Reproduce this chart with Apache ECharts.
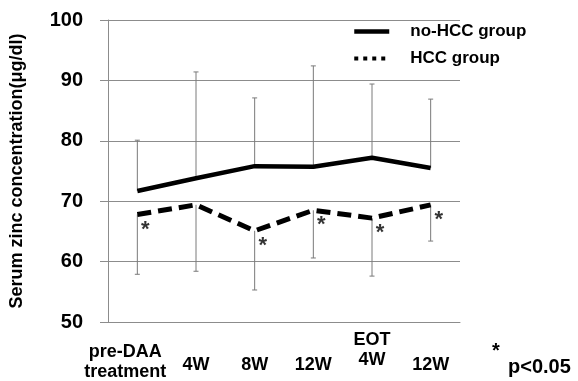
<!DOCTYPE html>
<html>
<head>
<meta charset="utf-8">
<script src="https://cdn.jsdelivr.net/npm/echarts@6/dist/echarts.min.js"></script>
<style>
  html, body { margin: 0; padding: 0; background: #fff; }
  #chart { width: 578px; height: 381px; }
</style>
</head>
<body>
<div id="chart"></div>
<script>
const categories = ['pre-DAA\ntreatment', '4W', '8W', '12W', 'EOT\n4W', '12W'];
const yTicks = [50, 60, 70, 80, 90, 100];

// no-HCC group: mean and upper SD bound
const noHccMean = [71.7, 73.8, 75.8, 75.7, 77.2, 75.5];
const noHccUpper = [80.1, 91.4, 87.1, 92.4, 89.4, 86.9];

// HCC group: mean and lower SD bound
const hccMean = [67.8, 69.4, 65.1, 68.5, 67.2, 69.4];
const hccLower = [57.9, 58.4, 55.3, 60.6, 57.6, 63.4];

// p<0.05 markers
const significant = [true, false, true, true, true, true];

const FONT = "'Liberation Sans', Arial, sans-serif";
const chart = echarts.init(document.getElementById('chart'));

function errorBar(params, api) {
  const p0 = api.coord([api.value(0), api.value(1)]);
  const p1 = api.coord([api.value(0), api.value(2)]);
  const style = { stroke: '#7a7a7a', lineWidth: 1 };
  return {
    type: 'group',
    children: [
      { type: 'line', shape: { x1: p0[0], y1: p0[1], x2: p1[0], y2: p1[1] }, style },
      { type: 'line', shape: { x1: p1[0] - 2.5, y1: p1[1], x2: p1[0] + 2.5, y2: p1[1] }, style }
    ]
  };
}

// two-line labels sit higher; single-line labels line up with the bottom row
const axisData = categories.map((c, i) => {
  let padding = [27, 0, 0, 0];
  if (i === 0) padding = [14, 24, 0, 0];
  else if (c.indexOf('EOT') === 0) padding = [2, 0, 0, 0];
  return { value: c, textStyle: { verticalAlign: 'top', lineHeight: 20, padding } };
});

chart.setOption({
  animation: false,
  backgroundColor: '#fff',
  grid: { left: 108, right: 118, top: 20, bottom: 59, outerBoundsMode: 'none', containLabel: false },
  legend: {
    orient: 'vertical',
    left: 347,
    top: 18,
    itemWidth: 35,
    itemHeight: 14,
    itemGap: 10,
    itemStyle: { color: 'transparent', borderColor: 'transparent', borderWidth: 0 },
    textStyle: { fontFamily: FONT, fontWeight: 'bold', fontSize: 17, color: '#000', padding: [0, 0, 0, 16] },
    data: [
      { name: 'no-HCC group', lineStyle: { width: 4.5 } },
      { name: 'HCC group', lineStyle: { type: [4, 5], width: 4 } }
    ]
  },
  xAxis: {
    type: 'category',
    data: axisData,
    boundaryGap: true,
    axisLine: { lineStyle: { color: '#8c8c8c', width: 1 } },
    axisTick: { show: false },
    axisLabel: {
      interval: 0,
      margin: 6,
      verticalAlign: 'top',
      lineHeight: 20,
      fontFamily: FONT,
      fontWeight: 'bold',
      fontSize: 18,
      color: '#000'
    }
  },
  yAxis: {
    type: 'value',
    min: yTicks[0],
    max: yTicks[yTicks.length - 1],
    interval: 10,
    name: 'Serum zinc concentration(μg/dl)',
    nameLocation: 'middle',
    nameGap: 82,
    nameTextStyle: { fontFamily: FONT, fontWeight: 'bold', fontSize: 18, color: '#000' },
    axisLine: { show: true, lineStyle: { color: '#8c8c8c', width: 1 } },
    axisTick: { show: true, length: 8, lineStyle: { color: '#8c8c8c' } },
    splitLine: { lineStyle: { color: '#8c8c8c', width: 1 } },
    axisLabel: { margin: 25, fontFamily: FONT, fontWeight: 'bold', fontSize: 20, color: '#000' }
  },
  graphic: [
    { type: 'text', left: 492, top: 341, style: { text: '*', fontFamily: FONT, fontWeight: 'bold', fontSize: 20, fill: '#000' } },
    { type: 'text', left: 508, top: 357, style: { text: 'p<0.05', fontFamily: FONT, fontWeight: 'bold', fontSize: 20, fill: '#000' } }
  ],
  series: [
    {
      type: 'custom',
      name: 'noHccErr',
      renderItem: errorBar,
      data: noHccMean.map((v, i) => [i, v, noHccUpper[i]]),
      z: 1,
      silent: true
    },
    {
      type: 'custom',
      name: 'hccErr',
      renderItem: errorBar,
      data: hccMean.map((v, i) => [i, v, hccLower[i]]),
      z: 1,
      silent: true
    },
    {
      type: 'line',
      name: 'no-HCC group',
      data: noHccMean,
      symbol: 'none',
      lineStyle: { color: '#000', width: 4.5 },
      itemStyle: { color: '#000' },
      z: 3
    },
    {
      type: 'line',
      name: 'HCC group',
      data: hccMean,
      symbol: 'none',
      lineStyle: { color: '#000', width: 5, type: [14, 7] },
      itemStyle: { color: '#000' },
      z: 3
    },
    {
      type: 'scatter',
      name: 'sig',
      data: hccMean.map((v, i) => (significant[i] ? [i, v] : null)).filter(d => d),
      symbolSize: 1,
      itemStyle: { color: 'transparent' },
      label: {
        show: true,
        formatter: '*',
        position: 'inside',
        offset: [8, 15],
        fontFamily: FONT,
        fontWeight: 'bold',
        fontSize: 22,
        color: '#000'
      },
      z: 4,
      silent: true
    }
  ]
});
</script>
</body>
</html>
